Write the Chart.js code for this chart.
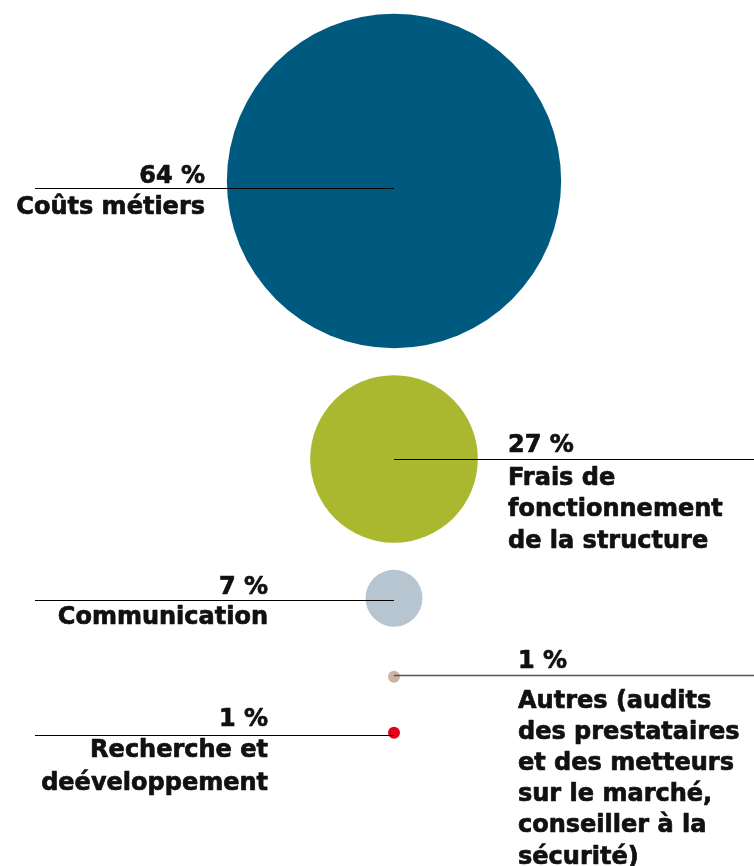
<!DOCTYPE html>
<html><head><meta charset="utf-8">
<script src="https://cdn.jsdelivr.net/npm/chart.js@4/dist/chart.umd.min.js"></script>
<style>html,body{margin:0;padding:0;background:#fff;}canvas{display:block;}</style>
</head><body>
<canvas id="c" width="754" height="866"></canvas>
<script>
const categories = ["Coûts métiers", "Frais de fonctionnement de la structure", "Communication", "Autres (audits des prestataires et des metteurs sur le marché, conseiller à la sécurité)", "Recherche et deéveloppement"];
const values = [64, 27, 7, 1, 1];
const valueLabels = ["64 %", "27 %", "7 %", "1 %", "1 %"];
const labelLines = [
  ["Coûts métiers"],
  ["Frais de", "fonctionnement", "de la structure"],
  ["Communication"],
  ["Autres (audits", "des prestataires", "et des metteurs", "sur le marché,", "conseiller à la", "sécurité)"],
  ["Recherche et", "deéveloppement"]
];
const colors = ["#005a80", "#a9b82e", "#b6c5d0", "#cbb4a5", "#e2001a"];

const W = 754, H = 866, CX = 394;
const radius = v => 6 * Math.pow(v, 0.8);
// stack bubbles vertically, top bubble first
const centers = [];
values.forEach((v, i) => {
  if (i === 0) { centers.push(181); return; }
  const rp = radius(values[i-1]), rc = radius(v);
  const gap = rc < 10 ? 44 : 27;
  centers.push(centers[i-1] + rp + rc + gap);
});
const points = values.map((v, i) => ({x: 0, y: centers[i], r: radius(v)}));

const layout = [
  {side: "left",  edge: 205, dy: 7,    above: 6,  below: 25, lh: 32, line: "#000", lw: 1},
  {side: "right", edge: 508, dy: 0,    above: 8,  below: 25, lh: 31.5, line: "#000", lw: 1},
  {side: "left",  edge: 268, dy: 2,    above: 7,  below: 23, lh: 32, line: "#000", lw: 1},
  {side: "right", edge: 518, dy: -2,   above: 8,  below: 32, lh: 31.2, line: "#555", lw: 1.5},
  {side: "left",  edge: 268, dy: 2,    above: 10, below: 21, lh: 33, line: "#000", lw: 1}
];

const labelPlugin = {
  id: "labels",
  afterDatasetsDraw(chart) {
    const ctx = chart.ctx;
    const meta = chart.getDatasetMeta(0);
    ctx.save();
    meta.data.forEach((el, i) => {
      const L = layout[i];
      const ly = Math.round(el.y + L.dy) + 0.5;
      ctx.strokeStyle = L.line;
      ctx.lineWidth = L.lw;
      ctx.beginPath();
      if (L.side === "left") { ctx.moveTo(35, ly); ctx.lineTo(el.x, ly); }
      else { ctx.moveTo(el.x, ly); ctx.lineTo(W, ly); }
      ctx.stroke();
      ctx.fillStyle = "#111";
      ctx.strokeStyle = "#111";
      ctx.lineWidth = 0.7;
      ctx.lineJoin = "round";
      ctx.font = "bold 24px 'DejaVu Sans', sans-serif";
      ctx.textAlign = L.side === "left" ? "right" : "left";
      ctx.textBaseline = "alphabetic";
      const put = (t, y) => { ctx.fillText(t, L.edge, y); ctx.strokeText(t, L.edge, y); };
      put(valueLabels[i], ly - L.above);
      labelLines[i].forEach((t, k) => put(t, ly + L.below + k * L.lh));
    });
    ctx.restore();
  }
};

new Chart(document.getElementById("c"), {
  type: "bubble",
  data: {
    labels: categories,
    datasets: [{
      data: points,
      backgroundColor: colors,
      borderWidth: 0,
      hoverBorderWidth: 0,
      clip: false
    }]
  },
  options: {
    responsive: false,
    devicePixelRatio: 1,
    animation: false,
    events: [],
    layout: {padding: 0, autoPadding: false},
    plugins: {legend: {display: false}, tooltip: {enabled: false}},
    scales: {
      x: {type: "linear", min: -CX, max: W - CX, display: false},
      y: {type: "linear", min: 0, max: H, reverse: true, display: false}
    }
  },
  plugins: [labelPlugin]
});
</script>
</body></html>
